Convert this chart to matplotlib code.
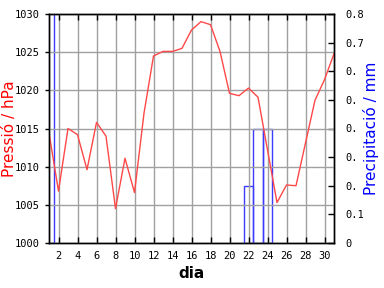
import numpy as np
import matplotlib
matplotlib.use('Agg')
import matplotlib.pyplot as plt

# Dades del mes
dies = np.arange(1, 32)
pressio = [1014.4, 1006.8, 1015.0, 1014.2, 1009.6, 1015.8, 1014.0, 1004.5,
           1011.1, 1006.6, 1017.0, 1024.5, 1025.1, 1025.1, 1025.5, 1027.9,
           1029.0, 1028.6, 1025.1, 1019.6, 1019.3, 1020.3, 1019.1, 1012.2,
           1005.3, 1007.6, 1007.5, 1013.1, 1018.7, 1021.4, 1024.8]

dies_pluja = [1, 22, 23, 24]
precipitacio = [1.0, 0.2, 0.4, 0.4]

ticks_dia = np.arange(2, 31, 2)
ticks_pressio = np.arange(1000, 1031, 5)
ticks_precip = np.arange(0, 0.81, 0.1)
etiquetes_precip = ['0', '0.1', '0.', '0.', '0.', '0.', '0.', '0.7', '0.8']

vermell = '#ff4848'
blau = '#3c3cff'
gris = '#a0a0a0'

fig = plt.figure(figsize=(3.84, 2.88), dpi=100)
ax1 = fig.add_axes([49/384, 45/288, 285/384, 229/288])
ax2 = ax1.twinx()

# Precipitació (barres buides)
ax2.bar(dies_pluja, precipitacio, width=1.0, fill=False, edgecolor=blau, linewidth=1)
ax2.set_ylim(0, 0.8)
ax2.set_yticks(ticks_precip)
ax2.set_yticklabels(etiquetes_precip, family='DejaVu Sans Mono', fontsize=7.5)
ax2.tick_params(axis='y', direction='in', length=4, width=1, pad=8)
ax2.set_ylabel('Precipitació / mm', color='#0000ff', fontsize=11)
ax2.yaxis.set_label_coords((363 - 49) / 285, 0.5)

# Pressió
ax1.set_zorder(ax2.get_zorder() + 1)
ax1.patch.set_visible(False)
ax1.plot(dies, pressio, color=vermell, linewidth=1)
ax1.set_xlim(1, 31)
ax1.set_ylim(1000, 1030)
ax1.set_xticks(ticks_dia)
ax1.set_yticks(ticks_pressio)
ax1.set_xticklabels([str(t) for t in ticks_dia], family='DejaVu Sans Mono', fontsize=7.5)
ax1.set_yticklabels([str(t) for t in ticks_pressio], family='DejaVu Sans Mono', fontsize=7.5)
ax1.tick_params(axis='y', direction='out', length=3, width=1)
ax1.tick_params(axis='x', direction='in', length=4, width=1, top=True, pad=6)
ax1.grid(True, color=gris, linewidth=1)
ax1.set_ylabel('Pressió / hPa', color='#ff0000', fontsize=11)
ax1.yaxis.set_label_coords((17 - 49) / 285, 0.5)
ax1.set_xlabel('dia', fontsize=11, fontweight='bold', labelpad=3)

for ax in (ax1, ax2):
    for s in ax.spines.values():
        s.set_linewidth(1)
        s.set_color('black')

fig.savefig('out.png', dpi=100)
